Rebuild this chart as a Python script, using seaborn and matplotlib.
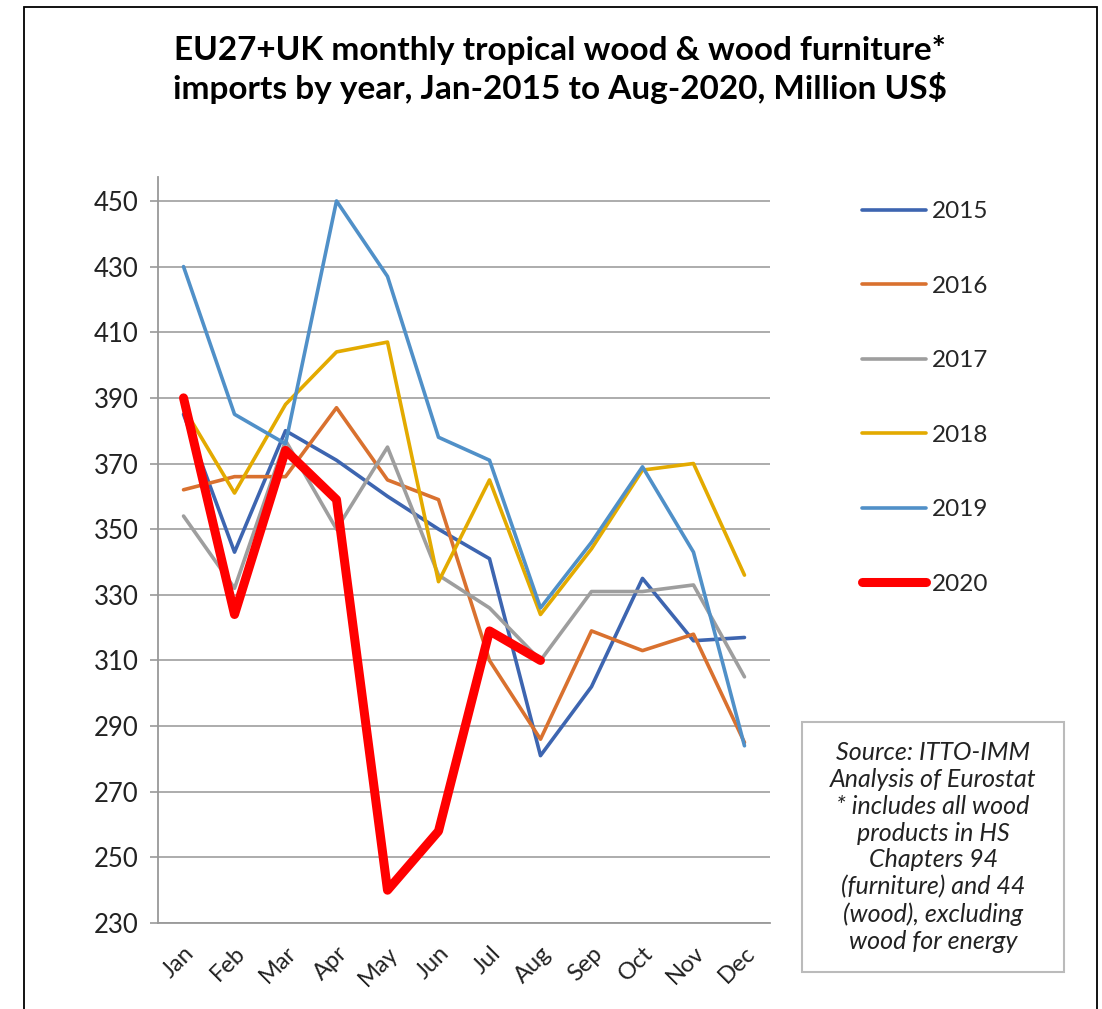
import matplotlib
matplotlib.use("Agg")
import matplotlib.pyplot as plt
import numpy as np
import pandas as pd
import seaborn as sns
from matplotlib.lines import Line2D
from matplotlib.patches import Rectangle

months = ["Jan", "Feb", "Mar", "Apr", "May", "Jun", "Jul", "Aug", "Sep", "Oct", "Nov", "Dec"]

imports_2015 = [385, 343, 380, 371, 360, 350, 341, 281, 302, 335, 316, 317]
imports_2016 = [362, 366, 366, 387, 365, 359, 310, 286, 319, 313, 318, 285]
imports_2017 = [354, 332, 377, 350, 375, 336, 326, 310, 331, 331, 333, 305]
imports_2018 = [387, 361, 388, 404, 407, 334, 365, 324, 344, 368, 370, 336]
imports_2019 = [430, 385, 376, 450, 427, 378, 371, 326, 346, 369, 343, 284]
imports_2020 = [390, 324, 374, 359, 240, 258, 319, 310]

years = ["2015", "2016", "2017", "2018", "2019", "2020"]
series = [imports_2015, imports_2016, imports_2017, imports_2018, imports_2019, imports_2020]
colors = ["#3D65B0", "#D9712F", "#9E9E9E", "#E3AA00", "#5090C8", "#FF0000"]
widths = [2.6, 2.6, 2.6, 2.6, 2.6, 6.5]

yticks = list(range(230, 451, 20))

sns.set_theme(style="white")
plt.rcParams["font.family"] = ["Lato", "DejaVu Sans"]

rows = []
for year, vals in zip(years, series):
    for i, v in enumerate(vals):
        rows.append({"year": year, "month": i, "value": v})
df = pd.DataFrame(rows)

fig = plt.figure(figsize=(11.02, 10.09), dpi=100)
ax = fig.add_axes([0.1434, 0.0852, 0.5553, 0.7394])

for year, col, lw in zip(years, colors, widths):
    sns.lineplot(data=df[df["year"] == year], x="month", y="value", ax=ax,
                 color=col, linewidth=lw, label=year, zorder=3 if year == "2020" else 2)

ax.set_xlim(-0.5, 11.5)
ax.set_ylim(230, 457.3)
ax.set_yticks(yticks)
ax.set_yticklabels([str(t) for t in yticks], fontsize=18.5, color="#222222")
ax.set_xticks(range(12))
ax.set_xticklabels(months, rotation=45, fontsize=17, color="#222222",
                   ha="right", va="top", rotation_mode="anchor")
ax.set_xticks(np.arange(-0.5, 12, 1), minor=True)
ax.tick_params(axis="x", which="major", length=0, pad=14)
ax.tick_params(axis="x", which="minor", length=6, width=1.2, color="#999999", direction="out")
ax.tick_params(axis="y", length=6, width=1.2, color="#999999", direction="out", left=True, pad=8)
ax.grid(axis="y", color="#A6A6A6", linewidth=1.3)
ax.set_axisbelow(True)
ax.set_xlabel("")
ax.set_ylabel("")
for s in ["top", "right"]:
    ax.spines[s].set_visible(False)
for s in ["left", "bottom"]:
    ax.spines[s].set_color("#999999")
    ax.spines[s].set_linewidth(1.3)

# Excel-style legend stretched down the right side
handles = [Line2D([0], [0], color=c, linewidth=lw, solid_capstyle="round") for c, lw in zip(colors, widths)]
ax.legend(handles, years, loc="upper left", bbox_to_anchor=(0.762, 0.822),
          bbox_transform=fig.transFigure, frameon=False, fontsize=17.5,
          labelspacing=2.2, handlelength=2.65, handletextpad=0.25)

fig.text(0.508, 0.950, "EU27+UK monthly tropical wood & wood furniture*",
         ha="center", va="center", fontsize=24, fontweight="bold", color="#000000")
fig.text(0.508, 0.913, "imports by year, Jan-2015 to Aug-2020, Million US$",
         ha="center", va="center", fontsize=24, fontweight="bold", color="#000000")

fig.add_artist(Rectangle((0.7278, 0.0367), 0.2378, 0.2478, transform=fig.transFigure,
                         facecolor="white", edgecolor="#BBBBBB", linewidth=1.5))
fig.text(0.8467, 0.1606,
         "Source: ITTO-IMM\nAnalysis of Eurostat\n* includes all wood\nproducts in HS\n"
         "Chapters 94\n(furniture) and 44\n(wood), excluding\nwood for energy",
         ha="center", va="center", fontsize=18, style="italic", color="#222222",
         linespacing=1.2)

fig.add_artist(Rectangle((0.0218, -0.05), 0.9737, 1.043, transform=fig.transFigure,
                         facecolor="none", edgecolor="black", linewidth=1.3))

fig.savefig("out.png", dpi=100)
